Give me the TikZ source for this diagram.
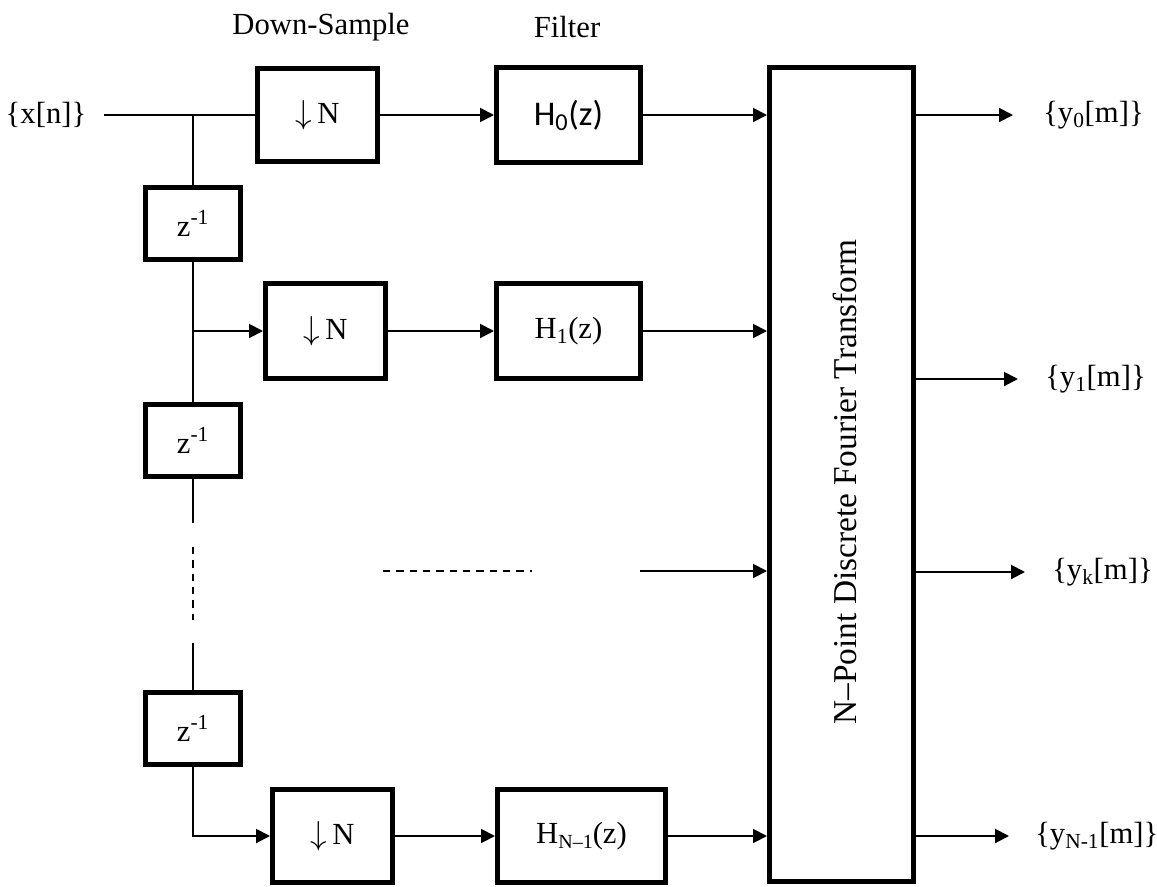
\documentclass[tikz,border=0pt]{standalone}
\usepackage{fontspec}
\setmainfont{Liberation Serif}
\newfontfamily\hsans{Carlito}
\usetikzlibrary{arrows.meta}
\newcommand{\dnN}{$\downarrow$\,N}
\tikzset{
  blk/.style={draw, line width=3.75pt, inner sep=0pt, font=\fontsize{23}{27}\selectfont},
  txt/.style={inner sep=0pt, font=\fontsize{23}{27}\selectfont},
  conn/.style={line width=1.5pt},
  arr/.style={line width=1.5pt, -{Triangle[length=10.5pt,width=10.5pt]}},
  dsh/.style={line width=1.5pt, dash pattern=on 5.5pt off 4.5pt},
}
\begin{document}
\begin{tikzpicture}[x=0.75pt,y=-0.75pt]
\useasboundingbox (0,0) rectangle (1157,886);
% titles
\node[txt] (tds) at (321,27) {Down-Sample};
\node[txt] (tf) at (567,27) {Filter};
% input
\node[txt] (xn) at (46,115) {\{x[n]\}};
\coordinate (xin) at (104,115);
\coordinate (j0) at (193,115);
\coordinate (j1) at (193,331);
\coordinate (e1) at (193,523);
\coordinate (d1) at (193,547);
\coordinate (d2) at (193,620);
\coordinate (e2) at (193,643);
% blocks
\node[blk, minimum width=90pt, minimum height=69.75pt] (ds1) at (317.5,115) {\dnN};
\node[blk, minimum width=108pt, minimum height=71.25pt] (h0) at (568.5,115) {\hsans\fontsize{26}{28}\selectfont H\textsubscript{0}(z)};
\node[blk, minimum width=71.25pt, minimum height=54pt] (z1) at (193,223.5) {z\textsuperscript{-1}};
\node[blk, minimum width=90pt, minimum height=71.25pt] (ds2) at (325.5,331) {\dnN};
\node[blk, minimum width=108pt, minimum height=71.25pt] (h1) at (568.5,331) {H\textsubscript{1}(z)};
\node[blk, minimum width=71.25pt, minimum height=54pt] (z2) at (193,440) {z\textsuperscript{-1}};
\node[blk, minimum width=71.25pt, minimum height=54pt] (z3) at (193,728) {z\textsuperscript{-1}};
\node[blk, minimum width=90pt, minimum height=69.75pt] (ds3) at (332.5,836) {\dnN};
\node[blk, minimum width=126pt, minimum height=69.75pt] (hn) at (581.5,836) {H\raisebox{-0.35ex}{\fontsize{15}{17}\selectfont N\textendash1}(z)};
\node[blk, minimum width=108pt, minimum height=610.5pt] (dft) at (841.5,474.5) {};
\node[txt, rotate=90, font=\fontsize{25}{29}\selectfont] (dftt) at (845,482) {N\textendash Point Discrete Fourier Transform};
% input lines
\draw[conn] (xin) -- (ds1);
\draw[conn] (j0) -- (z1);
\draw[conn] (z1) -- (z2);
\draw[arr] (j1) -- (ds2);
\draw[conn] (z2) -- (e1);
\draw[dsh] (d1) -- (d2);
\draw[conn] (e2) -- (z3);
\draw[arr] (z3) |- (ds3);
% filter connections
\draw[arr] (ds1) -- (h0);
\draw[arr] (ds2) -- (h1);
\draw[arr] (ds3) -- (hn);
\draw[arr] (h0) -- (h0 -| dft.west);
\draw[arr] (h1) -- (h1 -| dft.west);
\draw[arr] (hn) -- (hn -| dft.west);
% k-th branch
\coordinate (k1) at (383,571);
\coordinate (k2) at (532,571);
\coordinate (k3) at (640,571);
\draw[dsh] (k1) -- (k2);
\draw[arr] (k3) -- (k3 -| dft.west);
% outputs
\coordinate (o0) at (1013,115);
\coordinate (o1) at (1018,379);
\coordinate (ok) at (1025,572);
\coordinate (on) at (1009,836);
\draw[arr] (o0 -| dft.east) -- (o0);
\draw[arr] (o1 -| dft.east) -- (o1);
\draw[arr] (ok -| dft.east) -- (ok);
\draw[arr] (on -| dft.east) -- (on);
\node[txt, anchor=west] (y0) at (1043,115) {\{y\textsubscript{0}[m]\}};
\node[txt, anchor=west] (y1) at (1045,379) {\{y\textsubscript{1}[m]\}};
\node[txt, anchor=west] (yk) at (1052,572) {\{y\textsubscript{k}[m]\}};
\node[txt, anchor=west] (yn) at (1035,836) {\{y\textsubscript{N-1}[m]\}};
\end{tikzpicture}
\end{document}
